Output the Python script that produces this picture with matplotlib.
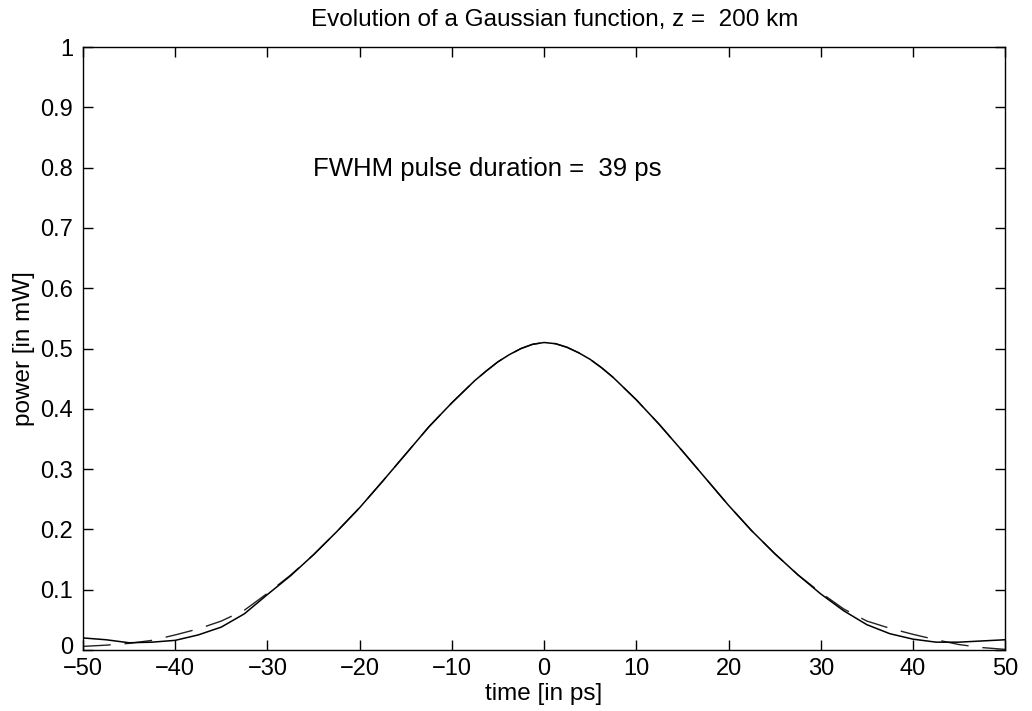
import matplotlib
matplotlib.use("Agg")
import matplotlib.pyplot as plt
import matplotlib.transforms as mtransforms
import numpy as np

plt.rcParams['font.family'] = ['Liberation Sans', 'DejaVu Sans']
plt.rcParams['lines.scale_dashes'] = False
plt.rcParams['axes.unicode_minus'] = True

time_ps = [-50, -47.5, -45, -42.5, -40, -37.5, -35, -32.5, -30, -27.5, -25, -22.5, -20,
           -17.5, -15, -12.5, -10, -7.5, -6.25, -5, -3.75, -2.5, -1.25, 0, 1.25, 2.5, 3.75,
           5, 6.25, 7.5, 10, 12.5, 15, 17.5,
           20, 22.5, 25, 27.5, 30, 32.5, 35, 37.5, 40, 42.5, 45, 47.5, 50]

power_solid = [0.020, 0.017, 0.012, 0.013, 0.016, 0.025, 0.038, 0.060, 0.092, 0.123,
               0.158, 0.196, 0.236, 0.280, 0.325, 0.370, 0.410, 0.447, 0.463, 0.478,
               0.490, 0.500, 0.507, 0.510, 0.508, 0.502, 0.493,
               0.482, 0.468, 0.452, 0.415, 0.374, 0.330, 0.285, 0.240, 0.198,
               0.160, 0.125, 0.093, 0.065, 0.042, 0.027, 0.018, 0.013, 0.013, 0.015, 0.017]

power_dashed = [0.006, 0.008, 0.011, 0.016, 0.025, 0.035, 0.048, 0.066, 0.094, 0.124,
                0.158, 0.196, 0.236, 0.280, 0.325, 0.370, 0.410, 0.447, 0.463, 0.478,
                0.490, 0.500, 0.507, 0.510, 0.508, 0.502, 0.493,
                0.482, 0.468, 0.452, 0.415, 0.374, 0.330, 0.285, 0.240, 0.198,
                0.160, 0.125, 0.095, 0.068, 0.048, 0.036, 0.026, 0.017, 0.009, 0.004, 0.001]

x_ticks = [-50, -40, -30, -20, -10, 0, 10, 20, 30, 40, 50]
y_ticks = [0, 0.1, 0.2, 0.3, 0.4, 0.5, 0.6, 0.7, 0.8, 0.9, 1]
y_ticklabels = ['0', '0.1', '0.2', '0.3', '0.4', '0.5', '0.6', '0.7', '0.8', '0.9', '1']

fig = plt.figure(figsize=(10.32, 7.11), dpi=100)
ax = fig.add_axes([0.0804, 0.0858, 0.8936, 0.848])

ax.plot(time_ps, power_dashed, color='#222222', lw=1.0, dashes=(20, 10))
ax.plot(time_ps, power_solid, color='black', lw=1.1)

ax.set_xlim(-50, 50)
ax.set_ylim(0, 1)
ax.set_xticks(x_ticks)
ax.set_yticks(y_ticks)
ax.set_yticklabels(y_ticklabels)
ax.tick_params(direction='in', length=7, width=1, top=True, right=True,
               labelsize=17)
ax.tick_params(axis='y', pad=7)
ax.tick_params(axis='x', pad=6)
for s in ax.spines.values():
    s.set_linewidth(1.0)

# nudge the bottom-left "0" label slightly up so it doesn't collide with "-50"
lbl0 = ax.get_yticklabels()[0]
lbl0.set_transform(lbl0.get_transform() + mtransforms.ScaledTranslation(0, 4 / 100, fig.dpi_scale_trans))

ax.set_title('Evolution of a Gaussian function, z =  200 km', fontsize=17.5, pad=15, x=0.511)
ax.set_xlabel('time [in ps]', fontsize=17.5, labelpad=2)
ax.set_ylabel('power [in mW]', fontsize=17.5, labelpad=4)
ax.text(-25.1, 0.797, 'FWHM pulse duration =  39 ps', fontsize=18.5, va='center', ha='left')

fig.savefig('out.png', dpi=100)
